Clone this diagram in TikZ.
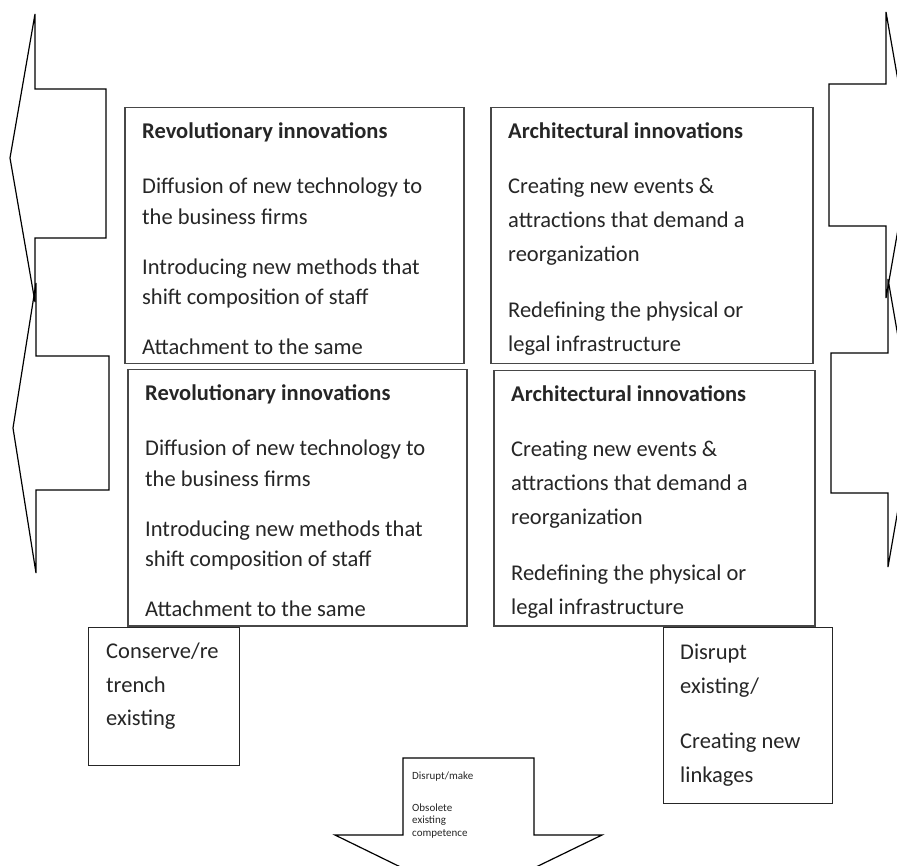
\documentclass[tikz,border=0pt]{standalone}
\usepackage{fontspec}
\setmainfont{Carlito}
\usetikzlibrary{positioning}

\begin{document}
\begin{tikzpicture}[
  x=1pt, y=-1pt,
  font=\fontsize{22.5}{30.5}\selectfont,
  panel/.style={draw=black!72, line width=1.5pt, fill=white, anchor=north west,
                inner sep=0pt, minimum width=#1},
  panel/.default=339pt,
  tag/.style={draw=black!85, line width=1.2pt, fill=white, anchor=north west, inner sep=0pt},
  blurb/.style={anchor=north west, align=left, inner sep=0pt, text=black!85},
  flow/.style={draw=black, line width=1.2pt, line join=miter},
]
  \useasboundingbox (0,0) rectangle (897,866);
  \clip (0,0) rectangle (897,866);

  % side arrows
  \draw[flow] (106,89) -- (35,89) -- (35,14) -- (10,158) -- (35,302) -- (35,238) -- (106,238) -- cycle;
  \draw[flow] (109,356) -- (36,356) -- (36,283) -- (13,428) -- (36,573) -- (36,490) -- (109,490) -- cycle;
  \draw[flow] (829,84) -- (886,84) -- (886,12) -- (911,155) -- (886,298) -- (886,226) -- (829,226) -- cycle;
  \draw[flow] (831,353) -- (888,353) -- (888,279) -- (913,423) -- (888,567) -- (888,493) -- (831,493) -- cycle;

  % four panels
  \node[panel, minimum height=256pt] (revUp) at (124,107) {};
  \node[panel, minimum height=256pt] (revLow) at (127,369) {};
  \node[panel=322pt, minimum height=256pt] (archUp) at (490,107) {};
  \node[panel=321pt, minimum height=255pt] (archLow) at (493,370) {};

  \node[blurb] (revUpTxt) at ([xshift=18pt, yshift=-15pt]revUp.north west)
    {\textbf{Revolutionary innovations}\\[25pt]
     Diffusion of new technology to\\ the business firms\\[19.5pt]
     Introducing new methods that\\ shift composition of staff\\[19.5pt]
     Attachment to the same};
  \node[blurb] (revLowTxt) at ([xshift=18pt, yshift=-15pt]revLow.north west)
    {\textbf{Revolutionary innovations}\\[25pt]
     Diffusion of new technology to\\ the business firms\\[19.5pt]
     Introducing new methods that\\ shift composition of staff\\[19.5pt]
     Attachment to the same};
  \node[blurb, font=\fontsize{22.5}{34}\selectfont] (archUpTxt) at ([xshift=18pt, yshift=-15pt]archUp.north west)
    {\textbf{Architectural innovations}\\[21.5pt]
     Creating new events \&\\ attractions that demand a\\ reorganization\\[21.5pt]
     Redefining the physical or\\ legal infrastructure};
  \node[blurb, font=\fontsize{22.5}{34}\selectfont] (archLowTxt) at ([xshift=18pt, yshift=-15pt]archLow.north west)
    {\textbf{Architectural innovations}\\[21.5pt]
     Creating new events \&\\ attractions that demand a\\ reorganization\\[21.5pt]
     Redefining the physical or\\ legal infrastructure};

  % small boxes below
  \node[tag, minimum width=151pt, minimum height=138pt] (conserve) at (88,627) {};
  \node[blurb, font=\fontsize{22.5}{33.5}\selectfont] (conserveTxt) at ([xshift=18pt, yshift=-16pt]conserve.north west)
    {Conserve/re\\ trench\\ existing};
  \node[tag, minimum width=169pt, minimum height=176pt] (disrupt) at (663,627) {};
  \node[blurb, font=\fontsize{22.5}{34}\selectfont] (disruptTxt) at ([xshift=17pt, yshift=-16.5pt]disrupt.north west)
    {Disrupt\\ existing/\\[21pt] Creating new\\ linkages};

  % down arrow
  \coordinate (downTop) at (403,758);
  \draw[flow] (downTop) -- (534,758) -- (534,835) -- (602,835) -- (468,900) -- (335,835) -- (403,835) -- cycle;
  \node[blurb, font=\fontsize{11}{12.5}\selectfont] (obsolete) at ([xshift=9pt, yshift=-14pt]downTop)
    {Disrupt/make\\[19pt] Obsolete\\ existing\\ competence};
\end{tikzpicture}
\end{document}
